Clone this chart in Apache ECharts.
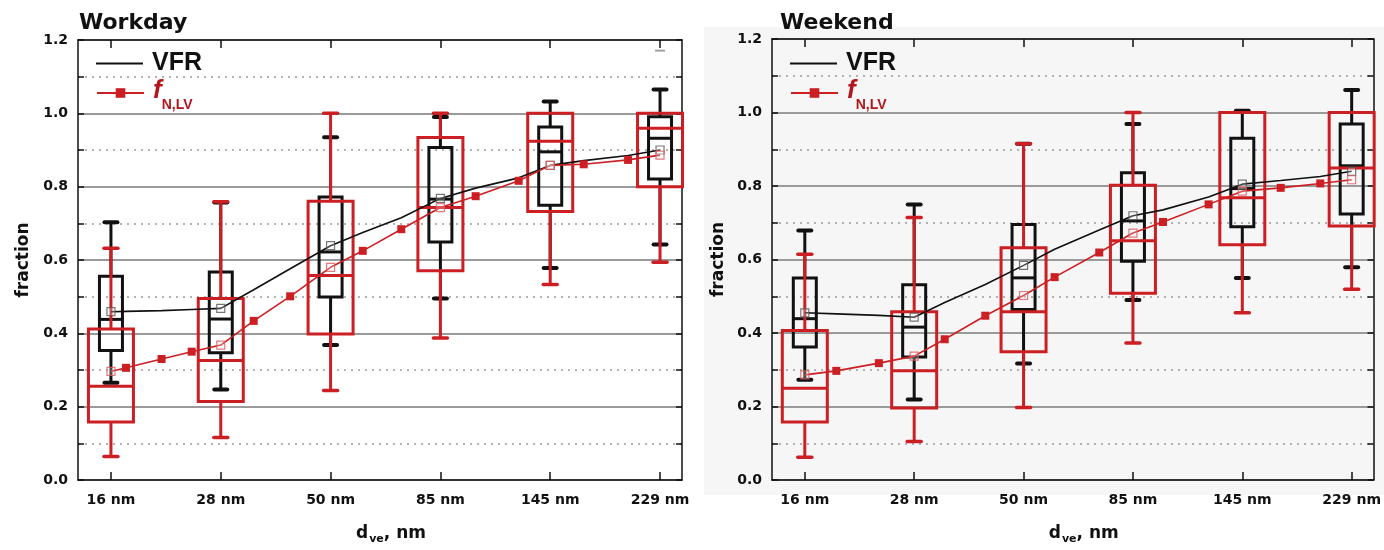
<!DOCTYPE html>
<html><head><meta charset="utf-8">
<script src="https://cdn.jsdelivr.net/npm/echarts@6/dist/echarts.min.js"></script>
<style>html,body{margin:0;padding:0;background:#fff}#c{width:1384px;height:550px}</style>
</head><body><div id="c"></div>
<script>
// ---------- data ----------
const CATEGORIES = ['16 nm', '28 nm', '50 nm', '85 nm', '145 nm', '229 nm'];
const PANEL_TITLES = ['Workday', 'Weekend'];
const Y_TICKS = [0, 0.2, 0.4, 0.6, 0.8, 1.0, 1.2];

// box stats per category: [low whisker, q1, median, q3, high whisker]
const workdayVfrBox = [
  [0.265, 0.353, 0.438, 0.556, 0.703],
  [0.247, 0.347, 0.439, 0.567, 0.757],
  [0.368, 0.499, 0.622, 0.772, 0.935],
  [0.495, 0.649, 0.766, 0.907, 0.990],
  [0.578, 0.749, 0.895, 0.963, 1.032],
  [0.642, 0.821, 0.932, 0.991, 1.065]
];
const workdayVfrMean = [0.459, 0.468, 0.639, 0.768, 0.858, 0.900];
const workdayFnBox = [
  [0.064, 0.158, 0.256, 0.412, 0.632],
  [0.116, 0.214, 0.326, 0.495, 0.759],
  [0.244, 0.398, 0.558, 0.760, 1.000],
  [0.387, 0.571, 0.743, 0.934, 1.000],
  [0.533, 0.732, 0.924, 1.000, 1.000],
  [0.594, 0.800, 0.959, 1.000, 1.000]
];
const workdayFnMean = [0.296, 0.368, 0.580, 0.743, 0.858, 0.886];
// curve points (x in category-index units)
const workdayLineX = [0, 0.137, 0.461, 0.735, 1, 1.30, 1.632, 2, 2.293, 2.644, 3, 3.321, 3.713, 4, 4.305, 4.709, 5];
const workdayFnLine = [0.296, 0.306, 0.330, 0.350, 0.368, 0.434, 0.501, 0.580, 0.625, 0.684, 0.743, 0.774, 0.816, 0.858, 0.861, 0.873, 0.886];
const workdayVfrLine = [0.459, 0.460, 0.462, 0.465, 0.468, 0.519, 0.576, 0.639, 0.675, 0.715, 0.768, 0.796, 0.824, 0.858, 0.871, 0.885, 0.900];
const workdayExtra = [[5, 1.171]];

const weekendVfrBox = [
  [0.273, 0.362, 0.439, 0.550, 0.679],
  [0.219, 0.335, 0.416, 0.531, 0.750],
  [0.317, 0.464, 0.550, 0.695, 0.915],
  [0.490, 0.595, 0.705, 0.836, 0.969],
  [0.550, 0.689, 0.793, 0.930, 1.005],
  [0.579, 0.724, 0.855, 0.969, 1.061]
];
const weekendVfrMean = [0.455, 0.443, 0.584, 0.719, 0.805, 0.840];
const weekendFnBox = [
  [0.062, 0.158, 0.250, 0.407, 0.614],
  [0.105, 0.196, 0.297, 0.458, 0.714],
  [0.197, 0.349, 0.458, 0.632, 0.915],
  [0.373, 0.508, 0.651, 0.802, 1.000],
  [0.455, 0.640, 0.768, 1.000, 1.000],
  [0.519, 0.691, 0.849, 1.000, 1.000]
];
const weekendFnMean = [0.286, 0.337, 0.502, 0.672, 0.786, 0.817];
const weekendLineX = [0, 0.288, 0.677, 1, 1.279, 1.650, 2, 2.284, 2.692, 3, 3.275, 3.692, 4, 4.351, 4.713, 5];
const weekendFnLine = [0.286, 0.297, 0.318, 0.337, 0.383, 0.447, 0.502, 0.552, 0.619, 0.672, 0.702, 0.750, 0.786, 0.795, 0.807, 0.817];
const weekendVfrLine = [0.455, 0.452, 0.448, 0.443, 0.483, 0.532, 0.584, 0.628, 0.680, 0.719, 0.735, 0.770, 0.805, 0.815, 0.826, 0.840];
const weekendExtra = [];

// ---------- styling ----------
const RED = '#cc1f24';
const RED_TEXT = '#b3161c';
const FONT = '"DejaVu Sans", sans-serif';
const LFONT = '"Liberation Sans", Arial, sans-serif';

const panels = [
  {vfrBox: workdayVfrBox, vfrMean: workdayVfrMean, fnBox: workdayFnBox, fnMean: workdayFnMean,
   lineX: workdayLineX, fnLine: workdayFnLine, vfrLine: workdayVfrLine, extra: workdayExtra,
   grid: {left: 78, right: 702, top: 40, bottom: 66}, nameGap: 46, legendLeft: 91, titleLeft: 79},
  {vfrBox: weekendVfrBox, vfrMean: weekendVfrMean, fnBox: weekendFnBox, fnMean: weekendFnMean,
   lineX: weekendLineX, fnLine: weekendFnLine, vfrLine: weekendVfrLine, extra: weekendExtra,
   grid: {left: 772, right: 8, top: 39, bottom: 67}, nameGap: 45, legendLeft: 785, titleLeft: 780}
];

function boxRenderer(halfW, capHalf, color, capW) {
  return function (params, api) {
    const x = api.value(0);
    const lo = api.coord([x, api.value(1)]);
    const q1 = api.coord([x, api.value(2)]);
    const md = api.coord([x, api.value(3)]);
    const q3 = api.coord([x, api.value(4)]);
    const hi = api.coord([x, api.value(5)]);
    const cx = lo[0];
    const st = {stroke: color, lineWidth: 3, fill: null};
    const cap = {stroke: color, lineWidth: capW, fill: null, lineCap: 'round'};
    const ch = [];
    if (Math.abs(lo[1] - q1[1]) > 0.5) {
      ch.push({type: 'line', shape: {x1: cx, y1: lo[1], x2: cx, y2: q1[1]}, style: st});
      ch.push({type: 'line', shape: {x1: cx - capHalf, y1: lo[1], x2: cx + capHalf, y2: lo[1]}, style: cap});
    }
    if (Math.abs(hi[1] - q3[1]) > 0.5) {
      ch.push({type: 'line', shape: {x1: cx, y1: q3[1], x2: cx, y2: hi[1]}, style: st});
      ch.push({type: 'line', shape: {x1: cx - capHalf, y1: hi[1], x2: cx + capHalf, y2: hi[1]}, style: cap});
    }
    ch.push({type: 'rect', shape: {x: cx - halfW, y: q3[1], width: 2 * halfW, height: q1[1] - q3[1]}, style: st});
    ch.push({type: 'line', shape: {x1: cx - halfW, y1: md[1], x2: cx + halfW, y2: md[1]}, style: st});
    return {type: 'group', children: ch};
  };
}

const grids = [], xAxes = [], yAxes = [], series = [], legends = [], titles = [];

panels.forEach((p, i) => {
  grids.push(Object.assign({containLabel: false}, p.grid));
  titles.push({text: PANEL_TITLES[i], left: p.titleLeft, top: 12, padding: 0,
    textStyle: {fontFamily: FONT, fontWeight: 'bold', fontSize: 22, color: '#111'}});
  // bottom x axis
  xAxes.push({
    gridIndex: i, type: 'value', min: -0.3, max: 5.2, position: 'bottom',
    name: '{d|d}{s|ve}{d|, nm}', nameLocation: 'middle', nameGap: 45,
    nameTextStyle: {padding: [0, 0, 0, 22], rich: {
      d: {fontFamily: FONT, fontWeight: 'bold', fontSize: 17, color: '#111', lineHeight: 20, verticalAlign: 'top'},
      s: {fontFamily: FONT, fontWeight: 'bold', fontSize: 11, color: '#111', lineHeight: 11, padding: [9, 0, 0, 1], verticalAlign: 'top'}
    }},
    axisLine: {show: true, onZero: false, lineStyle: {color: '#111', width: 1.5}},
    axisTick: {show: true, inside: true, length: 8, customValues: CATEGORIES.map((c, k) => k), lineStyle: {color: '#111', width: 1.5}},
    axisLabel: {show: true, customValues: CATEGORIES.map((c, k) => k), margin: 13,
      formatter: v => CATEGORIES[Math.round(v)],
      fontFamily: FONT, fontWeight: 'bold', fontSize: 14, color: '#111'},
    splitLine: {show: false}
  });
  // top x axis (frame)
  xAxes.push({
    gridIndex: i, type: 'value', min: -0.3, max: 5.2, position: 'top',
    axisLine: {show: true, onZero: false, lineStyle: {color: '#111', width: 1.5}},
    axisTick: {show: true, inside: true, length: 8, customValues: CATEGORIES.map((c, k) => k), lineStyle: {color: '#111', width: 1.5}},
    axisLabel: {show: false}, splitLine: {show: false}
  });
  // left y axis
  yAxes.push({
    gridIndex: i, type: 'value', min: Y_TICKS[0], max: Y_TICKS[Y_TICKS.length - 1], interval: 0.2, position: 'left',
    name: 'fraction', nameLocation: 'middle', nameGap: p.nameGap, nameRotate: 90,
    nameTextStyle: {fontFamily: FONT, fontWeight: 'bold', fontSize: 17, color: '#111'},
    axisLine: {show: true, onZero: false, lineStyle: {color: '#111', width: 1.5}},
    axisTick: {show: true, inside: true, length: 6, lineStyle: {color: '#111', width: 1.5}},
    minorTick: {show: true, splitNumber: 2, length: 6, lineStyle: {color: '#111', width: 1.5}},
    axisLabel: {margin: 10, formatter: v => v.toFixed(1), fontFamily: FONT, fontWeight: 'bold', fontSize: 14, color: '#111'},
    splitLine: {show: true, lineStyle: {color: '#9a9a9a', width: 1.8}},
    minorSplitLine: {show: true, lineStyle: {color: '#9a9a9a', width: 1.5, type: [2, 5]}}
  });
  // right y axis (frame)
  yAxes.push({
    gridIndex: i, type: 'value', min: Y_TICKS[0], max: Y_TICKS[Y_TICKS.length - 1], interval: 0.2, position: 'right',
    axisLine: {show: true, onZero: false, lineStyle: {color: '#111', width: 1.5}},
    axisTick: {show: true, inside: true, length: 6, lineStyle: {color: '#111', width: 1.5}},
    minorTick: {show: true, splitNumber: 2, length: 6, lineStyle: {color: '#111', width: 1.5}},
    axisLabel: {show: false}, splitLine: {show: false}
  });
  const xi = 2 * i, yi = 2 * i;
  series.push({
    type: 'custom', xAxisIndex: xi, yAxisIndex: yi, z: 3, silent: true,
    renderItem: boxRenderer(11.5, 6.5, '#111', 4),
    encode: {x: 0, y: [1, 2, 3, 4, 5]},
    data: p.vfrBox.map((b, k) => [k].concat(b))
  });
  series.push({
    type: 'custom', xAxisIndex: xi, yAxisIndex: yi, z: 4, silent: true,
    renderItem: boxRenderer(22.5, 7, RED, 3.5),
    encode: {x: 0, y: [1, 2, 3, 4, 5]},
    data: p.fnBox.map((b, k) => [k].concat(b))
  });
  series.push({
    name: 'VFR', type: 'line', xAxisIndex: xi, yAxisIndex: yi, z: 5, symbol: 'none',
    lineStyle: {color: '#111', width: 1.6}, itemStyle: {color: '#111'},
    data: p.lineX.map((x, k) => [x, p.vfrLine[k]])
  });
  series.push({
    name: 'fNLV', type: 'line', xAxisIndex: xi, yAxisIndex: yi, z: 6, symbol: 'rect', symbolSize: 8,
    lineStyle: {color: RED, width: 1.6}, itemStyle: {color: RED},
    data: p.lineX.map((x, k) => Number.isInteger(x) ? {value: [x, p.fnLine[k]], symbol: 'none'} : [x, p.fnLine[k]])
  });
  series.push({
    type: 'scatter', xAxisIndex: xi, yAxisIndex: yi, z: 7, symbol: 'rect', symbolSize: 8,
    itemStyle: {color: 'rgba(255,255,255,0.3)', borderColor: '#555', borderWidth: 1.2},
    data: p.vfrMean.map((v, k) => [k, v])
  });
  series.push({
    type: 'scatter', xAxisIndex: xi, yAxisIndex: yi, z: 7, symbol: 'rect', symbolSize: 8,
    itemStyle: {color: 'rgba(255,255,255,0.3)', borderColor: '#e0575b', borderWidth: 1.2},
    data: p.fnMean.map((v, k) => [k, v])
  });
  if (p.extra.length) {
    series.push({
      type: 'scatter', xAxisIndex: xi, yAxisIndex: yi, z: 7, symbol: 'rect', symbolSize: [10, 2],
      itemStyle: {color: '#888'}, data: p.extra
    });
  }
  legends.push({
    data: [{name: 'VFR', icon: 'rect'}], left: p.legendLeft, top: 46, orient: 'vertical',
    itemWidth: 47, itemHeight: 2, selectedMode: false,
    itemStyle: {color: '#111'},
    formatter: () => '{v|VFR}',
    textStyle: {rich: {v: {fontFamily: LFONT, fontWeight: 'bold', fontSize: 25, color: '#111', padding: [0, 0, 0, 4]}}}
  });
  legends.push({
    data: ['fNLV'], left: p.legendLeft, top: 73, orient: 'vertical',
    itemWidth: 47, itemHeight: 12, selectedMode: false,
    formatter: () => '{f|f}{s|N,LV}',
    textStyle: {rich: {
      f: {fontFamily: LFONT, fontWeight: 'bold', fontStyle: 'italic', fontSize: 26, color: RED_TEXT, lineHeight: 30, verticalAlign: 'top', padding: [0, 0, 0, 4]},
      s: {fontFamily: LFONT, fontWeight: 'bold', fontSize: 14, color: RED_TEXT, lineHeight: 14, verticalAlign: 'top', padding: [20, 0, 0, 0]}
    }}
  });
});

const chart = echarts.init(document.getElementById('c'), null, {renderer: 'canvas'});
chart.setOption({
  animation: false,
  backgroundColor: '#ffffff',
  graphic: [{type: 'rect', z: -10, silent: true, shape: {x: 704, y: 27, width: 680, height: 468}, style: {fill: '#f6f6f6'}}],
  title: titles,
  legend: legends,
  grid: grids,
  xAxis: xAxes,
  yAxis: yAxes,
  series: series
});
</script></body></html>
